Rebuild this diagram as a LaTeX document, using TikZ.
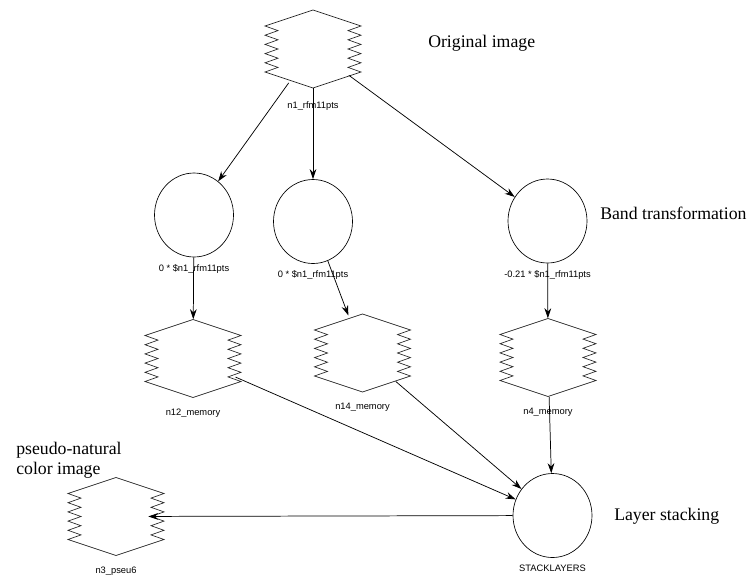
\documentclass[tikz,border=0pt]{standalone}
\usepackage{fontspec}
\setmainfont{Liberation Serif}
\newfontfamily\nodefont{Liberation Sans}
\usetikzlibrary{shapes.geometric, arrows.meta}
\tikzset{
    x=0.75pt, y=-0.75pt, % one unit is one pixel, y runs downwards
    >={Stealth[length=7.5pt, width=5pt]}, % narrow filled arrow heads
    every edge/.style={draw, ->, line width=0.55pt}, % makes the edges directed
    band/.style={ellipse, draw, line width=0.5pt, minimum width=59.25pt, minimum height=63pt, inner sep=0pt, label distance=0pt}, % operator nodes
    raster/.style={ellipse, minimum width=72pt, minimum height=58.5pt, inner sep=0pt, label distance=0pt}, % image nodes, outline comes from the pic
    sublabel/.style={font=\nodefont\fontsize{7}{8}\selectfont, inner sep=0pt, yshift=-8pt}, % small names under the nodes
    bandlabel/.style={sublabel, yshift=3pt}, % names under the circles sit closer
    note/.style={font=\fontsize{13.3}{14.3}\selectfont, inner sep=0pt, anchor=base west, align=left}, % captions on the side
    zigzag/.pic={
        \draw[line width=0.5pt, black!85] (0,-39) -- (-48,-23)
            foreach \k in {1,...,10} { -- ({-48+13*mod(\k,2)},{-23+4.6*\k}) }
            -- (0,39) -- (48,23)
            foreach \k in {1,...,10} { -- ({48-13*mod(\k,2)},{23-4.6*\k}) }
            -- cycle;
    },
}

\begin{document}
\begin{tikzpicture}
            \useasboundingbox (0,0) rectangle (750,576);

            \node[raster, label={[sublabel, yshift=-2pt]below:n1\_rfm11pts}] (n1) at (313,49) {};
            \node[band, label={[bandlabel]below:0 * \$n1\_rfm11pts}] (b12) at (194,215) {};
            \node[band, label={[bandlabel]below:0 * \$n1\_rfm11pts}] (b14) at (313,221.5) {};
            \node[band, label={[bandlabel]below:-0.21 * \$n1\_rfm11pts}] (b4) at (547.5,221) {};
            \node[raster, label={[sublabel]below:n12\_memory}] (n12) at (193,358.5) {};
            \node[raster, label={[sublabel]below:n14\_memory}] (n14) at (362.5,353) {};
            \node[raster, label={[sublabel]below:n4\_memory}] (n4) at (548,357.5) {};
            \node[band, label={[bandlabel]below:STACKLAYERS}] (stack) at (552.5,515.5) {};
            \node[raster, label={[sublabel]below:n3\_pseu6}] (n3) at (116,516.5) {};

            \foreach \n in {n1, n12, n14, n4, n3}
                \pic at (\n) {zigzag};

            \node[note] (orig) at (428,47) {Original image};
            \node[note] (bandt) at (600,219) {Band transformation};
            \node[note] (stacking) at (614,520) {Layer stacking};
            \node[note] (pseudo) at (16,474) {pseudo-natural\\color image};

            \draw (n1) edge (b12)
                  (n1) edge (b14)
                  (n1) edge (b4)
                  (b12) edge (n12)
                  (b14) edge (n14)
                  (b4) edge (n4)
                  (n12) edge (stack)
                  (n14) edge (stack)
                  (n4) edge (stack)
                  (stack) edge[shorten >=-12pt] (n3);
        \end{tikzpicture}
\end{document}
